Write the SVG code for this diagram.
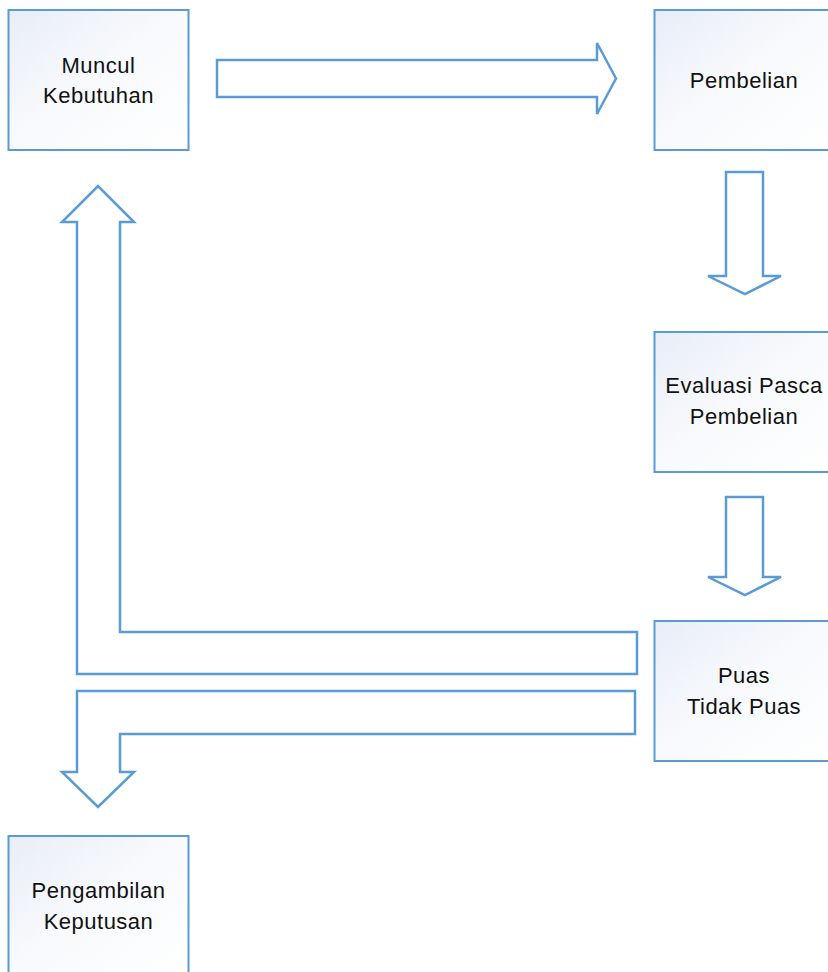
<svg xmlns="http://www.w3.org/2000/svg" width="828" height="972" viewBox="0 0 828 972">
  <defs>
    <linearGradient id="boxFill" x1="0" y1="0" x2="1" y2="1">
      <stop offset="0" stop-color="#e8edf7"/>
      <stop offset="0.45" stop-color="#f7f9fc"/>
      <stop offset="1" stop-color="#ffffff"/>
    </linearGradient>
  </defs>
  <style>
    .box { fill: url(#boxFill); stroke: #5b9bd5; stroke-width: 2; }
    .arrow { fill: #ffffff; stroke: #5b9bd5; stroke-width: 2.5; stroke-linejoin: miter; }
    .label { font-family: "Liberation Sans", Arial, sans-serif; font-size: 22px; fill: #111111; text-anchor: middle; letter-spacing: 0.5px; }
  </style>
  <rect width="828" height="972" fill="#ffffff"/>

  <g id="connectors">
    <!-- Muncul Kebutuhan to Pembelian -->
    <polygon class="arrow" points="217,60 597,60 597,43 616,78.5 597,114 597,97 217,97"/>
    <!-- Pembelian to Evaluasi -->
    <polygon class="arrow" points="726,172 763,172 763,276 781,276 745,294 708,276 726,276"/>
    <!-- Evaluasi to Puas -->
    <polygon class="arrow" points="726,497 763,497 763,577 781,577 745,595 708,577 726,577"/>
    <!-- Puas back to Muncul Kebutuhan -->
    <polygon class="arrow" points="637,632 120,632 120,222 134,222 98,186 62,222 77,222 77,674 637,674"/>
    <!-- Tidak Puas to Pengambilan Keputusan -->
    <polygon class="arrow" points="635,691 77,691 77,772 62,772 98,807 134,772 120,772 120,734 635,734"/>
  </g>

  <g id="node-muncul">
    <rect class="box" x="8.5" y="10" width="180" height="140"/>
    <text class="label" x="98.5" y="73">Muncul</text>
    <text class="label" x="98.5" y="103">Kebutuhan</text>
  </g>

  <g id="node-pembelian">
    <rect class="box" x="654.5" y="10" width="180" height="140"/>
    <text class="label" x="744" y="88">Pembelian</text>
  </g>

  <g id="node-evaluasi">
    <rect class="box" x="654.5" y="332" width="180" height="140"/>
    <text class="label" x="744" y="393">Evaluasi Pasca</text>
    <text class="label" x="744" y="424">Pembelian</text>
  </g>

  <g id="node-puas">
    <rect class="box" x="654.5" y="621" width="180" height="140"/>
    <text class="label" x="744" y="683">Puas</text>
    <text class="label" x="744" y="714">Tidak Puas</text>
  </g>

  <g id="node-pengambilan">
    <rect class="box" x="8.5" y="836" width="180" height="140"/>
    <text class="label" x="98.5" y="898">Pengambilan</text>
    <text class="label" x="98.5" y="929">Keputusan</text>
  </g>
</svg>
